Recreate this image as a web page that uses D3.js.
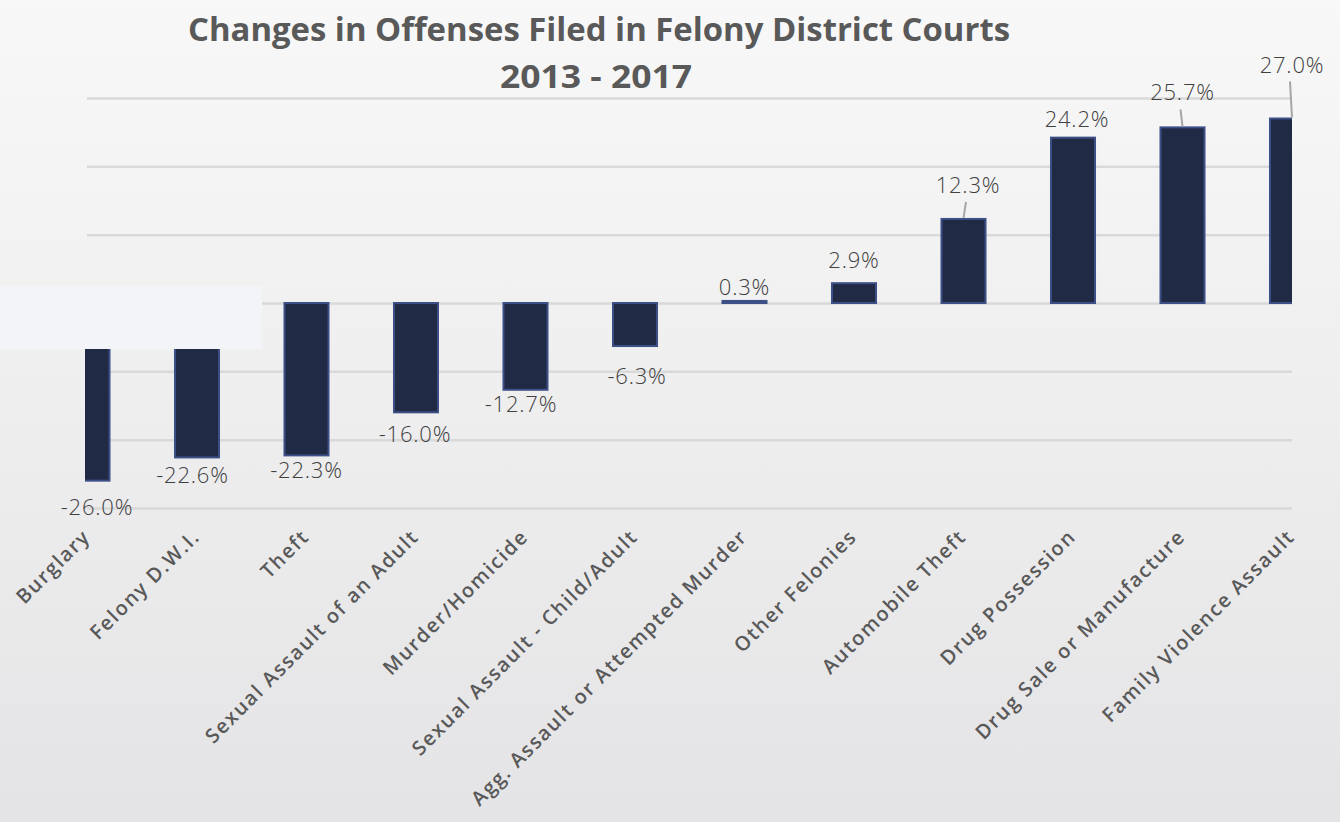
<!DOCTYPE html>
<html>
<head>
<meta charset="utf-8">
<script src="https://cdn.jsdelivr.net/npm/d3@7"></script>
<style>
    body { margin: 0; background: #eeeeee; }
    svg { display: block; }
</style>
</head>
<body>
<script>
// offenses, sorted by change
let categories = ["Burglary", "Felony D.W.I.", "Theft", "Sexual Assault of an Adult", "Murder/Homicide",
    "Sexual Assault - Child/Adult", "Agg. Assault or Attempted Murder", "Other Felonies", "Automobile Theft",
    "Drug Possession", "Drug Sale or Manufacture", "Family Violence Assault"];

// percent change 2013 - 2017
let changes = [-26.0, -22.6, -22.3, -16.0, -12.7, -6.3, 0.3, 2.9, 12.3, 24.2, 25.7, 27.0];

let gridTicks = [-30, -20, -10, 0, 10, 20, 30];

let titleLines = ["Changes in Offenses Filed in Felony District Courts", "2013 - 2017"];

// manual nudges of the data labels (dx, dy), like the ones dragged around in the original
let labelNudge = [[9.5, 10], [-4.5, 2], [0, -1], [-1, 6], [-4.5, -2], [2, 14],
    [0, 4], [0, -5], [4.5, -16], [4, -1], [0, -17], [0, -36]];
let leaderLine = [false, false, false, false, false, false, false, false, true, false, true, true];

let width = 1340, height = 822;

let svg = d3.select("body").append("svg")
    .attr("width", width)
    .attr("height", height);

let defs = svg.append("defs");

let grad = defs.append("linearGradient")
    .attr("id", "bg")
    .attr("x1", 0).attr("y1", 0)
    .attr("x2", 0).attr("y2", 1);
grad.append("stop").attr("offset", "0%").attr("stop-color", "#f8f8f8");
grad.append("stop").attr("offset", "100%").attr("stop-color", "#e4e4e6");

defs.append("clipPath")
    .attr("id", "plotclip")
    .append("rect")
    .attr("x", 85).attr("y", 0)
    .attr("width", 1292 - 85).attr("height", height);

svg.append("rect")
    .attr("width", width)
    .attr("height", height)
    .attr("fill", "url(#bg)");

let x = d3.scaleBand()
    .domain(categories)
    .range([32.75, 1346.75])
    .paddingInner(0.598)
    .paddingOuter(0.299);

let y = d3.scaleLinear()
    .domain([-30, 30])
    .range([508, 98]);

// title
svg.append("text")
    .attr("x", 599)
    .attr("y", 41)
    .attr("text-anchor", "middle")
    .attr("textLength", 822)
    .attr("lengthAdjust", "spacingAndGlyphs")
    .style("font-family", "'Open Sans', sans-serif")
    .style("font-weight", "bold")
    .style("font-size", "32px")
    .style("fill", "#595959")
    .text(titleLines[0]);

svg.append("text")
    .attr("x", 596)
    .attr("y", 88)
    .attr("text-anchor", "middle")
    .attr("textLength", 192)
    .attr("lengthAdjust", "spacingAndGlyphs")
    .style("font-family", "'Open Sans', sans-serif")
    .style("font-weight", "bold")
    .style("font-size", "32px")
    .style("fill", "#595959")
    .text(titleLines[1]);

let plot = svg.append("g")
    .attr("clip-path", "url(#plotclip)");

// gridlines
let yAxis = d3.axisLeft(y)
    .tickValues(gridTicks)
    .tickSize(-(1292 - 87))
    .tickFormat("");

plot.append("g")
    .attr("class", "grid")
    .attr("transform", "translate(87,0)")
    .call(yAxis)
    .call(function (g) { g.select(".domain").remove(); })
    .selectAll("line")
    .attr("stroke", "#d9d9d9")
    .attr("stroke-width", 2.5);

// bars
plot.selectAll(".bar")
    .data(changes)
    .enter().append("rect")
    .attr("class", "bar")
    .attr("x", function (d, i) { return x(categories[i]); })
    .attr("width", x.bandwidth())
    .attr("y", function (d) { return y(Math.max(0, d)); })
    .attr("height", function (d) { return Math.abs(y(d) - y(0)); })
    .attr("fill", "#212a45")
    .attr("stroke", "#3d4f87")
    .attr("stroke-width", 2);

function labelX(d, i) {
    return x(categories[i]) + x.bandwidth() / 2 + labelNudge[i][0];
}

function labelY(d, i) {
    let base = d < 0 ? y(d) + 24 : y(d) - 10;
    return base + labelNudge[i][1];
}

// leader lines for the moved labels
svg.selectAll(".leader")
    .data(changes.filter(function (d, i) { return leaderLine[i]; }))
    .enter().append("line")
    .attr("class", "leader")
    .each(function (d) {
        let i = changes.indexOf(d);
        d3.select(this)
            .attr("x1", labelX(d, i) - 2)
            .attr("y1", labelY(d, i) + 9)
            .attr("x2", x(categories[i]) + x.bandwidth() / 2)
            .attr("y2", y(d) - 1);
    })
    .attr("stroke", "#a6a6a6")
    .attr("stroke-width", 2);

// value labels
svg.selectAll(".value")
    .data(changes)
    .enter().append("text")
    .attr("class", "value")
    .attr("x", labelX)
    .attr("y", labelY)
    .attr("text-anchor", "middle")
    .style("font-family", "'Open Sans', sans-serif")
    .style("font-weight", 300)
    .style("font-size", "22px")
    .style("letter-spacing", "0.8px")
    .style("fill", "#404040")
    .text(function (d) { return d.toFixed(1) + "%"; });

// the pale box sitting over the left of the chart
svg.append("rect")
    .attr("x", 0)
    .attr("y", 286)
    .attr("width", 262)
    .attr("height", 63)
    .attr("fill", "#f3f4f8");

// category labels
svg.selectAll(".cat")
    .data(categories)
    .enter().append("text")
    .attr("class", "cat")
    .attr("text-anchor", "end")
    .attr("transform", function (d) {
        return "translate(" + (x(d) + x.bandwidth() / 2 + 4) + ",538) rotate(-45)";
    })
    .style("font-family", "'Open Sans', sans-serif")
    .style("font-weight", 600)
    .style("font-size", "20px")
    .style("letter-spacing", "1.6px")
    .style("fill", "#595959")
    .text(function (d) { return d; });
</script>
</body>
</html>
